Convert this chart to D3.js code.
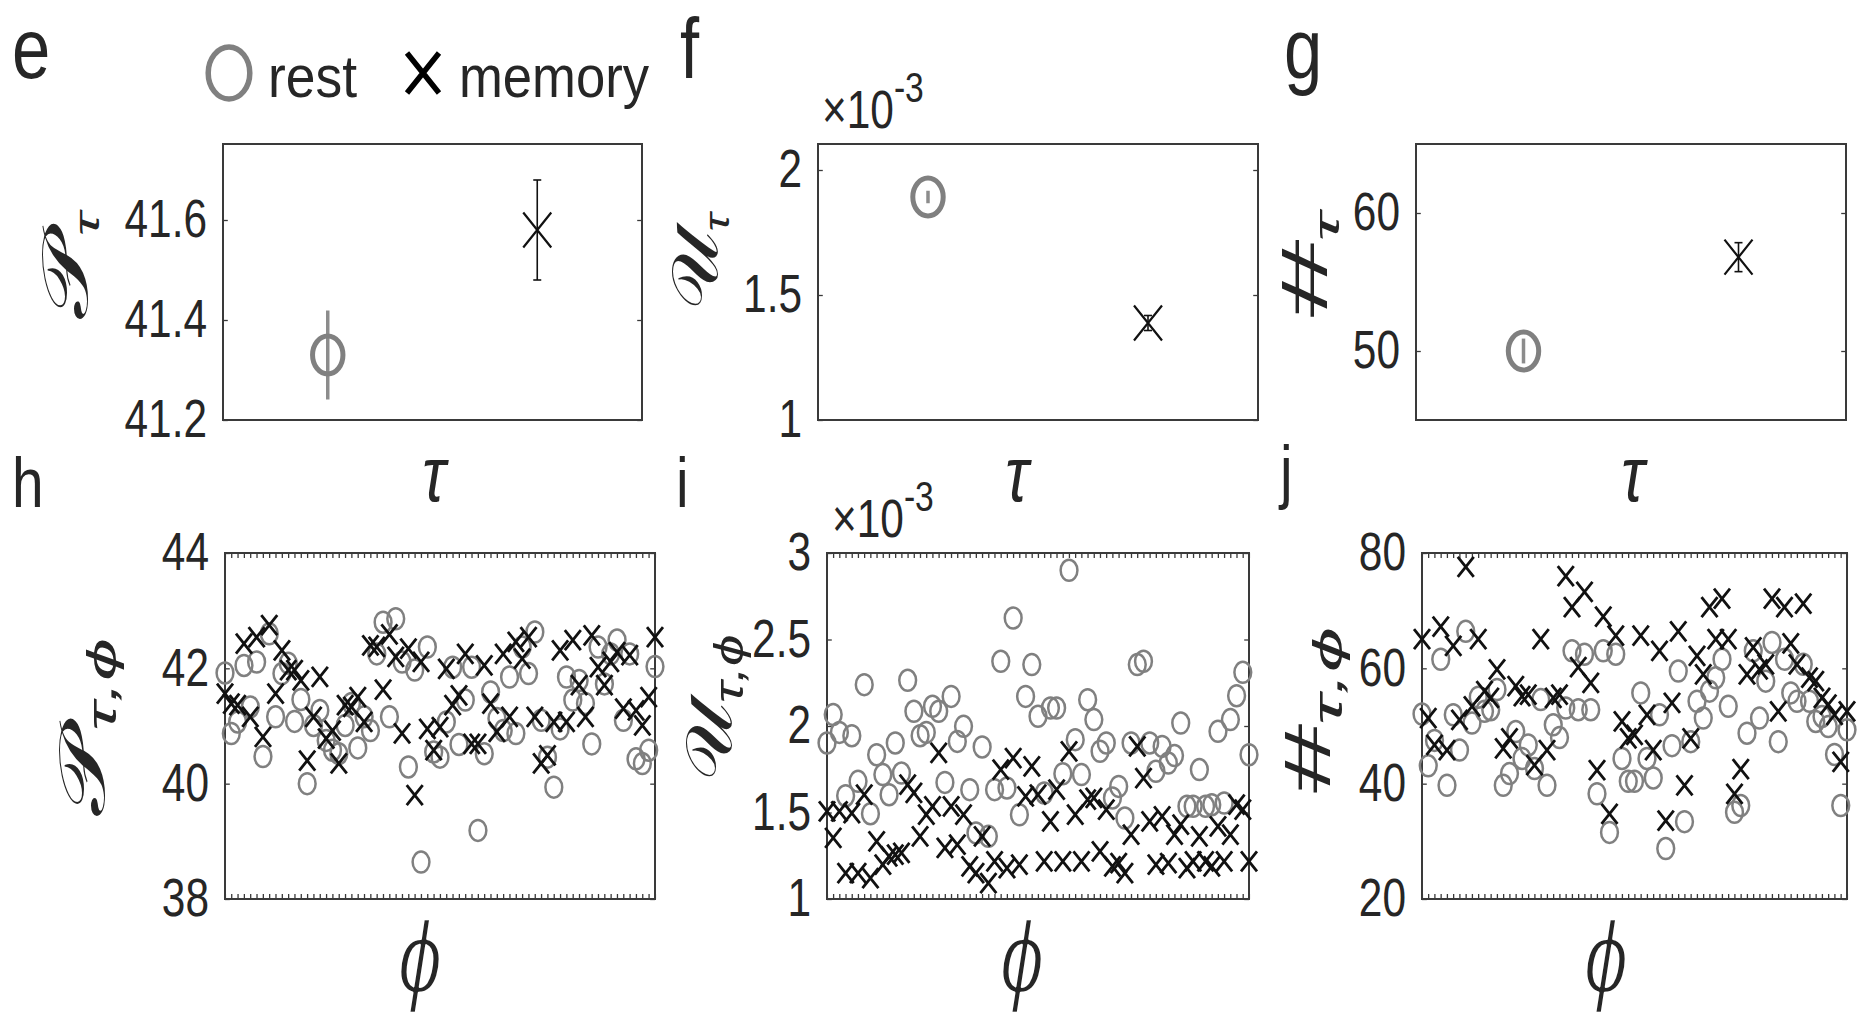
<!DOCTYPE html>
<html>
<head>
<meta charset="utf-8">
<script src="https://cdn.jsdelivr.net/npm/d3@7"></script>
<style>
  body { margin: 0; background: #fff; }
  svg { display: block; }
  text { font-family: "Liberation Sans", Arial, sans-serif; fill: #262626; }
</style>
</head>
<body>
<svg id="chart" width="1858" height="1018"></svg>
<script>
// ---- data ----
const groups = ['rest', 'memory'];

// top row: mean and error per group
const meanP = [41.33, 41.58], errP = [0.089, 0.10];
const meanU = [1.892, 1.388], errU = [0.025, 0.03];   // x 1e-3
const meanN = [50.0, 56.8],   errN = [0.9, 1.05];

// bottom row: one value per phi
const restP = [41.92, 40.87, 41.07, 42.05, 41.33, 42.11, 40.47, 42.60, 41.16, 41.91,
  42.09, 41.08, 41.46, 40.00, 41.01, 41.27, 40.75, 40.58, 40.52, 41.01,
  41.39, 40.62, 41.16, 40.92, 42.25, 42.80, 41.16, 42.86, 42.11, 40.29,
  41.97, 38.64, 42.37, 40.55, 40.46, 41.07, 42.02, 40.68, 41.45, 42.02,
  39.19, 40.52, 41.59, 41.13, 40.92, 41.85, 40.87, 42.37, 41.91, 42.63,
  41.10, 40.46, 39.94, 40.95, 41.85, 41.45, 41.79, 41.39, 40.69, 42.37,
  41.73, 42.25, 42.49, 41.10, 42.25, 40.43, 40.35, 40.58, 42.03];
const memP = [41.56, 41.39, 41.36, 42.43, 41.16, 42.54, 40.81, 42.75, 41.56, 42.31,
  41.97, 41.97, 41.79, 40.40, 41.16, 41.85, 40.78, 40.92, 40.35, 41.36,
  41.33, 41.50, 41.07, 42.40, 42.37, 41.63, 42.59, 42.20, 40.87, 42.34,
  39.80, 42.11, 40.95, 40.58, 40.98, 41.99, 41.36, 41.53, 42.25, 40.69,
  40.69, 42.05, 41.39, 40.90, 42.25, 41.16, 42.46, 42.17, 42.54, 41.16,
  40.35, 40.49, 41.07, 42.31, 41.07, 42.49, 41.71, 41.16, 42.57, 42.02,
  41.71, 42.11, 42.28, 41.30, 42.23, 41.27, 41.01, 41.50, 42.54];

const restU = [1.902, 2.066, 1.963, 1.597, 1.944, 1.680, 2.239, 1.493, 1.834, 1.719,
  1.603, 1.902, 1.728, 2.264, 2.085, 1.944, 1.963, 2.114, 2.085, 1.674,
  2.171, 1.911, 1.998, 1.632, 1.382, 1.879, 1.362, 1.632, 2.374, 1.642,
  2.624, 1.487, 2.171, 2.355, 2.056, 1.613, 2.104, 2.104, 1.724, 2.900,
  1.921, 1.719, 2.152, 2.037, 1.854, 1.902, 1.584, 1.651, 1.468, 1.902,
  2.355, 2.374, 1.902, 1.738, 1.882, 1.786, 1.829, 2.017, 1.536, 1.536,
  1.748, 1.536, 1.545, 1.969, 1.555, 2.037, 2.175, 2.310, 1.834];
const memU = [1.507, 1.353, 1.507, 1.150, 1.497, 1.150, 1.603, 1.121, 1.333, 1.198,
  1.247, 1.256, 1.266, 1.661, 1.613, 1.362, 1.487, 1.536, 1.844, 1.295,
  1.536, 1.314, 1.487, 1.189, 1.150, 1.362, 1.092, 1.218, 1.748, 1.179,
  1.815, 1.198, 1.593, 1.767, 1.603, 1.218, 1.449, 1.632, 1.218, 1.854,
  1.487, 1.218, 1.574, 1.584, 1.276, 1.516, 1.189, 1.208, 1.150, 1.372,
  1.882, 1.699, 1.449, 1.198, 1.478, 1.208, 1.372, 1.430, 1.179, 1.218,
  1.362, 1.218, 1.189, 1.420, 1.218, 1.372, 1.545, 1.516, 1.218];

const restN = [52.07, 43.09, 47.50, 61.57, 39.71, 51.95, 45.83, 66.41, 50.50, 54.99,
  52.54, 52.83, 56.33, 39.71, 41.75, 49.04, 44.37, 46.71, 42.62, 54.58,
  39.71, 50.20, 47.99, 53.12, 63.03, 52.83, 62.45, 52.83, 38.25, 63.03,
  31.55, 62.45, 44.37, 40.41, 40.41, 55.74, 44.37, 40.99, 51.95, 28.75,
  46.59, 59.53, 33.41, 47.29, 54.29, 51.37, 56.04, 58.37, 61.57, 53.41,
  35.04, 36.21, 48.75, 63.03, 51.37, 57.78, 64.49, 47.29, 61.57, 55.74,
  54.29, 60.70, 54.29, 50.79, 51.66, 49.91, 45.07, 36.21, 49.33];
const memN = [65.07, 51.37, 46.71, 67.23, 45.83, 63.91, 51.08, 77.61, 53.41, 65.07,
  56.03, 54.87, 59.82, 46.12, 47.87, 56.91, 55.16, 55.45, 43.21, 65.07,
  45.83, 54.87, 55.45, 75.98, 70.61, 60.23, 73.24, 57.49, 42.33, 68.98,
  34.75, 65.66, 50.79, 47.87, 48.45, 65.66, 51.95, 45.83, 63.03, 33.59,
  54.00, 66.41, 39.71, 47.87, 62.16, 58.95, 70.61, 65.07, 72.07, 65.07,
  38.25, 42.51, 58.95, 63.62, 59.82, 60.70, 72.07, 52.54, 70.61, 64.31,
  60.70, 71.20, 58.37, 57.78, 54.87, 53.70, 51.95, 43.79, 52.54];

const ticksP = [41.2, 41.4, 41.6], ticksU = [1, 1.5, 2], ticksN = [50, 60];
const ticksPphi = [38, 40, 42, 44], ticksUphi = [1, 1.5, 2, 2.5, 3], ticksNphi = [20, 40, 60, 80];

// ---- drawing ----
// the original figure is squeezed horizontally, so everything is drawn in a
// wider virtual space and scaled back
const SX = 0.8;
const vx = px => px / SX;
const GREY = '#808080', BOX = '#3a3a3a', MARK = '#111';

const svg = d3.select('#chart');
const root = svg.append('g').attr('transform', `scale(${SX},1)`);

const cross = a => `M${-a},${-a}L${a},${a}M${-a},${a}L${a},${-a}`;

function frame(p) {
  const g = root.append('g');
  const x = d3.scaleLinear().domain(p.xDomain).range([vx(p.box[0]), vx(p.box[1])]);
  const y = d3.scaleLinear().domain(p.yDomain).range([p.box[3], p.box[2]]);
  const [xl, xr] = x.range();

  const styleAxis = sel => {
    sel.select('.domain').remove();
    sel.attr('color', BOX).attr('font-size', 53)
      .attr('font-family', '"Liberation Sans", Arial, sans-serif');
    sel.selectAll('line').attr('stroke-width', 1.3).attr('vector-effect', 'non-scaling-stroke');
    sel.selectAll('text').attr('fill', '#262626');
  };

  g.append('g').attr('transform', `translate(${xl},0)`)
    .call(d3.axisLeft(y).tickValues(p.yTicks).tickSize(-6).tickPadding(vx(16))
      .tickFormat(d3.format(p.fmt)))
    .call(styleAxis);
  g.append('g').attr('transform', `translate(${xr},0)`)
    .call(d3.axisRight(y).tickValues(p.yTicks).tickSize(-6).tickFormat(''))
    .call(styleAxis);

  if (p.xTicks) {
    g.append('g').attr('transform', `translate(0,${p.box[3]})`)
      .call(d3.axisBottom(x).tickValues(p.xTicks).tickSize(-5).tickFormat(''))
      .call(styleAxis);
    g.append('g').attr('transform', `translate(0,${p.box[2]})`)
      .call(d3.axisTop(x).tickValues(p.xTicks).tickSize(-5).tickFormat(''))
      .call(styleAxis);
  }

  g.append('rect')
    .attr('x', xl).attr('y', p.box[2])
    .attr('width', xr - xl).attr('height', p.box[3] - p.box[2])
    .attr('fill', 'none').attr('stroke', BOX).attr('stroke-width', 2)
    .attr('vector-effect', 'non-scaling-stroke');

  return { g, x, y };
}

function meanPanel(p) {
  const { g, x, y } = frame(p);
  const rows = groups.map((k, i) => ({ k, pos: i + 1, m: p.mean[i], e: p.err[i] }));

  // error bars
  rows.forEach(d => {
    const col = d.k === 'rest' ? '#8c8c8c' : MARK;
    const sw = d.k === 'rest' ? 3.5 : 1.6;
    g.append('line')
      .attr('x1', x(d.pos)).attr('x2', x(d.pos))
      .attr('y1', y(d.m - d.e)).attr('y2', y(d.m + d.e))
      .attr('stroke', col).attr('stroke-width', sw)
      .attr('vector-effect', 'non-scaling-stroke');
    if (d.k === 'memory') {
      [d.m - d.e, d.m + d.e].forEach(v => {
        g.append('line')
          .attr('x1', x(d.pos) - 5).attr('x2', x(d.pos) + 5)
          .attr('y1', y(v)).attr('y2', y(v))
          .attr('stroke', col).attr('stroke-width', sw)
          .attr('vector-effect', 'non-scaling-stroke');
      });
    }
  });

  const r = rows[0], m = rows[1];
  g.append('circle').attr('cx', x(r.pos)).attr('cy', y(r.m)).attr('r', 19)
    .attr('fill', 'none').attr('stroke', GREY).attr('stroke-width', 5)
    .attr('vector-effect', 'non-scaling-stroke');
  g.append('path').attr('d', cross(17.5))
    .attr('transform', `translate(${x(m.pos)},${y(m.m)})`)
    .attr('fill', 'none').attr('stroke', MARK).attr('stroke-width', 2.2)
    .attr('vector-effect', 'non-scaling-stroke');
}

function phiPanel(p) {
  const n = p.rest.length;
  p.xDomain = [1, n];
  p.xTicks = d3.range(1, n + 1);
  const { g, x, y } = frame(p);

  g.append('g').selectAll('circle').data(p.rest).join('circle')
    .attr('cx', (d, i) => x(i + 1)).attr('cy', d => y(d)).attr('r', 10.5)
    .attr('fill', 'none').attr('stroke', GREY).attr('stroke-width', 2.5)
    .attr('vector-effect', 'non-scaling-stroke');
  g.append('g').selectAll('path').data(p.mem).join('path')
    .attr('d', cross(10))
    .attr('transform', (d, i) => `translate(${x(i + 1)},${y(d)})`)
    .attr('fill', 'none').attr('stroke', MARK).attr('stroke-width', 2.8)
    .attr('vector-effect', 'non-scaling-stroke');
}

meanPanel({ box: [223, 642, 144, 420], xDomain: [0.5, 2.5], yDomain: [41.2, 41.752],
  yTicks: ticksP, fmt: '.1f', mean: meanP, err: errP });
meanPanel({ box: [818, 1258, 144, 420], xDomain: [0.5, 2.5], yDomain: [1, 2.104],
  yTicks: ticksU, fmt: '', mean: meanU, err: errU });
meanPanel({ box: [1416, 1846, 144, 420], xDomain: [0.5, 2.5], yDomain: [45, 65],
  yTicks: ticksN, fmt: 'd', mean: meanN, err: errN });

phiPanel({ box: [225, 655, 553, 899], yDomain: [38, 44], yTicks: ticksPphi, fmt: 'd',
  rest: restP, mem: memP });
phiPanel({ box: [827, 1249, 553, 899], yDomain: [1, 3], yTicks: ticksUphi, fmt: '',
  rest: restU, mem: memU });
phiPanel({ box: [1422, 1847, 553, 899], yDomain: [20, 80], yTicks: ticksNphi, fmt: 'd',
  rest: restN, mem: memN });

// ---- text ----
const txt = (x, y, s, size, extra) => {
  const t = root.append('text').attr('x', vx(x)).attr('y', y).attr('font-size', size).text(s);
  if (extra) extra(t);
  return t;
};

// panel letters
txt(12, 78, 'e', 86); txt(680, 78, 'f', 86); txt(1284, 78, 'g', 86);
txt(12, 507, 'h', 71); txt(676, 507, 'i', 71); txt(1280, 495, 'j', 71);

// legend
root.append('circle').attr('cx', vx(229)).attr('cy', 73).attr('r', 26)
  .attr('fill', 'none').attr('stroke', GREY).attr('stroke-width', 5.5)
  .attr('vector-effect', 'non-scaling-stroke');
txt(268, 97, groups[0], 60, t => t.attr('fill', '#8a8a8a')
  .attr('textLength', vx(89)).attr('lengthAdjust', 'spacingAndGlyphs'));
root.append('path').attr('d', cross(20)).attr('transform', `translate(${vx(423)},73)`)
  .attr('fill', 'none').attr('stroke', '#000').attr('stroke-width', 5.5)
  .attr('vector-effect', 'non-scaling-stroke');
txt(459, 97, groups[1], 60, t => t.attr('fill', '#000')
  .attr('textLength', vx(190)).attr('lengthAdjust', 'spacingAndGlyphs'));

// x10^-3 multipliers
[[822, 128], [832, 537]].forEach(([x, y]) => {
  const t = txt(x, y, '\u00d710', 53);
  t.append('tspan').attr('dy', -26).attr('font-size', 42).text('-3');
});

// x labels
const serif = t => t.attr('font-family', '"Liberation Serif", "DejaVu Serif", serif')
  .attr('font-style', 'italic').attr('text-anchor', 'middle').attr('fill', '#000');
[434, 1017, 1633].forEach(cx => txt(cx, 501, '\u03c4', 78, serif));
[420, 1022, 1606].forEach(cx => txt(cx, 992, '\u03d5', 100, t => {
  serif(t);
  // thin the heavy phi a little with a white outline
  t.attr('stroke', '#fff').attr('stroke-width', 2.5).attr('stroke-linejoin', 'round');
}));

// y labels (rotated), stretched along the axis to the reference length
function ylab(cx, cy, main, sub, len, subScale, italic) {
  const size = 80;
  const t = root.append('text')
    .attr('transform', `translate(${vx(cx)},${cy}) rotate(-90)`)
    .attr('text-anchor', 'middle').attr('fill', '#000')
    .attr('font-family', '"DejaVu Serif", "DejaVu Sans", serif')
    .attr('font-size', size)
    .attr('textLength', len).attr('lengthAdjust', 'spacingAndGlyphs');
  t.append('tspan').attr('dy', '0.35em').attr('font-style', italic ? 'italic' : null).text(main);
  t.append('tspan').attr('dy', 14).attr('font-size', size * subScale)
    .attr('font-style', 'italic').text(sub);
}
ylab(65, 266, '\u{1D4AB}', '\u03c4', 107, 0.55);
ylab(695, 262, '\u{1D4B0}', '\u03c4', 97, 0.55);
ylab(1305, 266, '#', '\u03c4', 107, 0.55, true);
ylab(82, 727, '\u{1D4AB}', '\u03c4,\u03d5', 178, 0.65);
ylab(709, 708, '\u{1D4B0}', '\u03c4,\u03d5', 147, 0.65);
ylab(1308, 711, '#', '\u03c4,\u03d5', 168, 0.65, true);
</script>
</body>
</html>
